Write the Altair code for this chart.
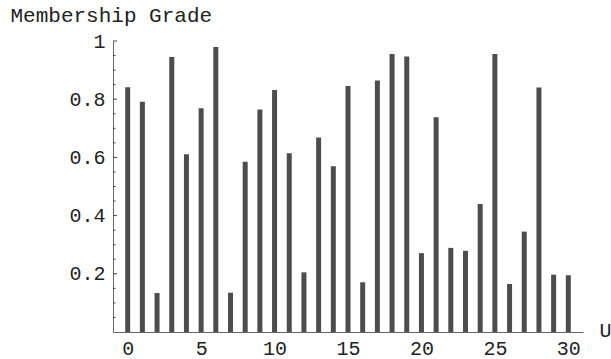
import altair as alt
import pandas as pd

# Universe elements and their membership grades
U_VALUES = list(range(31))
GRADES = [0.841, 0.791, 0.134, 0.945, 0.611, 0.769, 0.979, 0.135, 0.585, 0.765,
          0.832, 0.614, 0.205, 0.668, 0.570, 0.845, 0.171, 0.864, 0.955, 0.947,
          0.271, 0.738, 0.289, 0.279, 0.440, 0.955, 0.165, 0.345, 0.840, 0.197,
          0.195]

X_TICKS = [0, 5, 10, 15, 20, 25, 30]
Y_LABELS = [0.2, 0.4, 0.6, 0.8, 1.0]
Y_MINOR = [0.05, 0.1, 0.15, 0.25, 0.3, 0.35, 0.45, 0.5, 0.55, 0.65, 0.7, 0.75,
           0.85, 0.9, 0.95]

FONT = "Liberation Mono"
TEXT_COLOR = "#222"

bars_df = pd.DataFrame({"u": U_VALUES, "grade": GRADES})
major_df = pd.DataFrame({"grade": Y_LABELS})
minor_df = pd.DataFrame({"grade": Y_MINOR})

x_scale = alt.Scale(domain=[-1, 31], nice=False, zero=False, padding=0)
y_scale = alt.Scale(domain=[0, 1], nice=False, zero=True, padding=0)

x_axis = alt.Axis(
    values=X_TICKS,
    title="U",
    titleFont=FONT,
    titleFontSize=20,
    titleFontWeight="normal",
    titleColor=TEXT_COLOR,
    titleAlign="left",
    titleBaseline="alphabetic",
    titleX=486,
    titleY=4,
    ticks=False,
    tickSize=0,
    labelPadding=6,
    labelFont=FONT,
    labelFontSize=20,
    labelColor=TEXT_COLOR,
    labelFlush=False,
    domainColor="#666",
    grid=False,
)

y_axis = alt.Axis(
    values=Y_LABELS,
    format="~g",
    title="Membership Grade",
    titleFont=FONT,
    titleFontSize=21,
    titleFontWeight="normal",
    titleColor=TEXT_COLOR,
    titleAngle=0,
    titleAlign="left",
    titleBaseline="alphabetic",
    titleX=-103,
    titleY=-20,
    ticks=False,
    tickSize=0,
    labelPadding=8,
    labelFont=FONT,
    labelFontSize=20,
    labelColor=TEXT_COLOR,
    labelFlush=False,
    domainColor="#666",
    grid=False,
)

bars = alt.Chart(bars_df).mark_bar(size=5, color="#4d4d4d").encode(
    x=alt.X("u:Q", scale=x_scale, axis=x_axis),
    y=alt.Y("grade:Q", scale=y_scale, axis=y_axis),
)

# Inward-pointing tick marks on the vertical axis
major_ticks = alt.Chart(major_df).mark_rule(color="#444", strokeWidth=1).encode(
    y=alt.Y("grade:Q", scale=y_scale, axis=y_axis),
    x=alt.value(0),
    x2=alt.value(4),
)
minor_ticks = alt.Chart(minor_df).mark_rule(color="#444", strokeWidth=1).encode(
    y=alt.Y("grade:Q", scale=y_scale, axis=y_axis),
    x=alt.value(0),
    x2=alt.value(2.5),
)

chart = (
    alt.layer(bars, minor_ticks, major_ticks)
    .properties(
        width=470,
        height=291,
        autosize=alt.AutoSizeParams(type="none"),
        padding={"left": 113, "top": 41, "right": 28, "bottom": 27},
        background="white",
    )
    .configure_view(stroke=None)
)

chart.save("out.html", embed_options={"renderer": "svg", "actions": False})
